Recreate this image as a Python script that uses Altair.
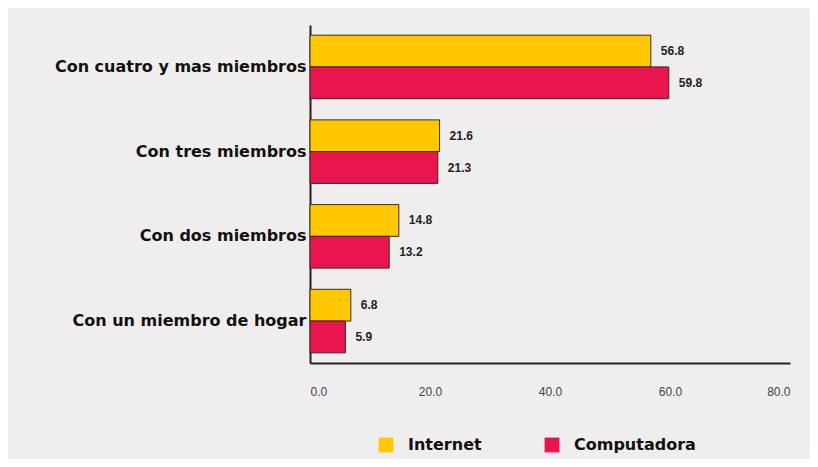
import altair as alt
import pandas as pd

categories = ["Con cuatro y mas miembros", "Con tres miembros", "Con dos miembros", "Con un miembro de hogar"]
series = ["Internet", "Computadora"]
internet = [56.8, 21.6, 14.8, 6.8]
computadora = [59.8, 21.3, 13.2, 5.9]
x_ticks = [0, 20, 40, 60, 80]

rows = []
for c, a, b in zip(categories, internet, computadora):
    rows.append({"cat": c, "serie": "Internet", "val": a})
    rows.append({"cat": c, "serie": "Computadora", "val": b})
df = pd.DataFrame(rows)

color_scale = alt.Scale(domain=series, range=["#FFC800", "#E8154E"])

base = alt.Chart(df).encode(
    y=alt.Y("cat:N", sort=categories, title=None,
            scale=alt.Scale(paddingInner=0.25, paddingOuter=0.12),
            axis=alt.Axis(labelFont="DejaVu Sans", labelFontSize=16, labelFontWeight="bold",
                          labelColor="#111", labelLimit=300, labelPadding=4, ticks=False,
                          domainColor="#222", domainWidth=2)),
    yOffset=alt.YOffset("serie:N", sort=series),
)

bars = base.mark_bar(stroke="#3a2a10", strokeWidth=1).encode(
    x=alt.X("val:Q", title=None, scale=alt.Scale(domain=[0, 80], nice=False),
            axis=alt.Axis(values=x_ticks, format=".1f", grid=False, ticks=False,
                          labelFont="Liberation Sans", labelFontSize=12, labelColor="#444",
                          labelPadding=23, domainColor="#222", domainWidth=2)),
    color=alt.Color("serie:N", scale=color_scale, sort=series, title=None,
                    legend=alt.Legend(orient="none", legendX=68, legendY=412, direction="horizontal",
                                      symbolType="square", symbolSize=220, symbolStrokeWidth=0,
                                      labelFont="DejaVu Sans", labelFontSize=16,
                                      labelFontWeight="bold", labelColor="#111",
                                      labelOffset=14, columnPadding=62)),
)

labels = base.mark_text(align="left", dx=10, font="Liberation Sans", fontSize=12,
                        fontWeight="bold", color="#222").encode(
    x="val:Q",
    text=alt.Text("val:Q", format=".1f"),
)

chart = (bars + labels).properties(
    width=480, height=338,
    autosize=alt.AutoSizeParams(type="none"),
    padding={"left": 302, "top": 17, "right": 20, "bottom": 96},
    background="#F0EDEE",
).configure_view(stroke=None)

chart.save("out.html", embed_options={"renderer": "svg", "actions": False})
